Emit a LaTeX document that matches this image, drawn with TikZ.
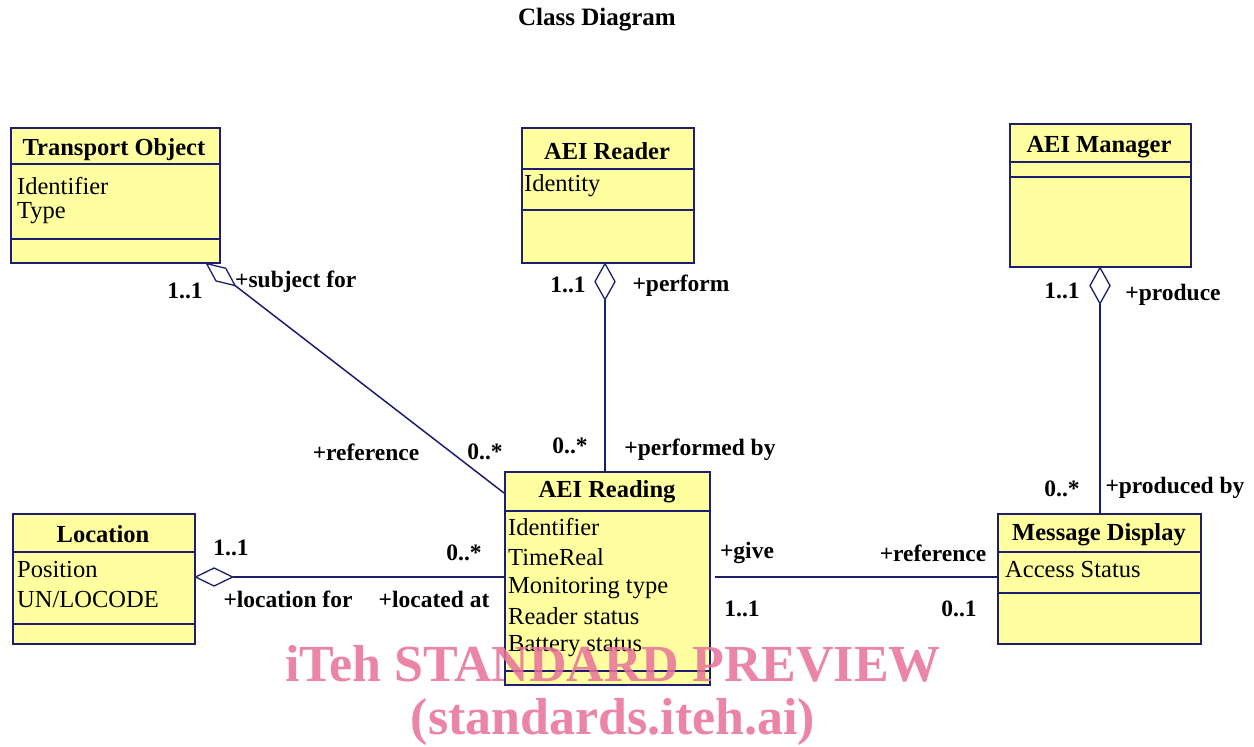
\documentclass[tikz,border=0pt]{standalone}
\usepackage{fontspec}
\setmainfont{Liberation Serif}
\usetikzlibrary{calc}
\definecolor{boxfill}{RGB}{255,255,160}
\definecolor{navy}{RGB}{30,30,110}
\definecolor{stamp}{RGB}{232,112,152}
\tikzset{
  classbox/.style={draw=navy, fill=boxfill, line width=1.6pt, anchor=north west, inner sep=0pt},
  divider/.style={draw=navy, line width=1.6pt},
  assoc/.style={draw=navy, line width=1.5pt},
  agg/.style={draw=navy, fill=white, line width=1.3pt},
  cname/.style={font=\fontsize{24.5}{28}\selectfont\bfseries, inner sep=0pt},
  attr/.style={font=\fontsize{24.5}{28}\selectfont, anchor=west, inner sep=0pt},
  lbl/.style={font=\fontsize{23.5}{26}\selectfont\bfseries, inner sep=0pt},
  ttl/.style={font=\fontsize{25}{28}\selectfont\bfseries, inner sep=0pt},
  stamptext/.style={font=\fontsize{52}{56}\selectfont\bfseries, text=stamp, opacity=0.85, inner sep=0pt}
}
\begin{document}
\begin{tikzpicture}[x=1pt,y=-1pt]
\useasboundingbox (0,0) rectangle (1254,747);

% title
\node[ttl] (title) at (597,20) {Class Diagram};

% ---- classes ----
% Transport Object
\node[classbox, minimum width=209pt, minimum height=135pt] (to) at (10,127) {};
\draw[divider] (10,164) -- (219,164);
\draw[divider] (10,239) -- (219,239);
\node[cname] (toN) at (114,150) {Transport Object};
\node[attr] (toA1) at (17,186) {Identifier};
\node[attr] (toA2) at (17,213) {Type};

% AEI Reader
\node[classbox, minimum width=172pt, minimum height=135pt] (rd) at (521,127) {};
\draw[divider] (521,169) -- (693,169);
\draw[divider] (521,210) -- (693,210);
\node[cname] (rdN) at (607,151) {AEI Reader};
\node[attr] (rdA1) at (524,186) {Identity};

% AEI Manager
\node[classbox, minimum width=181pt, minimum height=143pt] (mg) at (1009,123) {};
\draw[divider] (1009,162) -- (1190,162);
\draw[divider] (1009,177) -- (1190,177);
\node[cname] (mgN) at (1099,147) {AEI Manager};

% Location
\node[classbox, minimum width=182pt, minimum height=130pt] (lc) at (12,513) {};
\draw[divider] (12,552) -- (194,552);
\draw[divider] (12,624) -- (194,624);
\node[cname] (lcN) at (103,534) {Location};
\node[attr] (lcA1) at (17,570) {Position};
\node[attr] (lcA2) at (17,600) {UN/LOCODE};

% AEI Reading
\node[classbox, minimum width=205pt, minimum height=213pt] (ar) at (504,471) {};
\draw[divider] (504,511) -- (709,511);
\draw[divider] (504,671) -- (709,671);
\node[cname] (arN) at (607,492) {AEI Reading};
\node[attr] (arA1) at (508,527) {Identifier};
\node[attr] (arA2) at (508,557) {TimeReal};
\node[attr] (arA3) at (508,588) {Monitoring type};
\node[attr] (arA4) at (508,616) {Reader status};
\node[attr] (arA5) at (508,646) {Battery status};

% Message Display
\node[classbox, minimum width=203pt, minimum height=130pt] (md) at (997,513) {};
\draw[divider] (997,552) -- (1200,552);
\draw[divider] (997,593) -- (1200,593);
\node[cname] (mdN) at (1099,535) {Message Display};
\node[attr] (mdA1) at (1005,570) {Access Status};

% ---- associations ----
% Transport Object -- AEI Reading
\coordinate (toD) at ($(to.south east)+(-14,0)$);
\coordinate (arT) at ($(ar.north west)+(0,22)$);
\coordinate (toDtip) at ($(toD)!36pt!(arT)$);
\coordinate (toDmid) at ($(toD)!18pt!(arT)$);
\draw[assoc] (toDtip) -- (arT);
\draw[agg] (toD) -- ($(toDmid)!8pt!90:(arT)$) -- (toDtip) -- ($(toDmid)!8pt!-90:(arT)$) -- cycle;

% AEI Reader -- AEI Reading
\coordinate (rdD) at (rd.south -| 605,0);
\draw[assoc] ($(rdD)+(0,36)$) -- (ar.north -| rdD);
\draw[agg] (rdD) -- ++(10,18) -- ++(-10,18) -- ++(-10,-18) -- cycle;

% AEI Manager -- Message Display
\coordinate (mgD) at (mg.south -| 1100,0);
\draw[assoc] ($(mgD)+(0,36)$) -- (md.north -| mgD);
\draw[agg] (mgD) -- ++(10,18) -- ++(-10,18) -- ++(-10,-18) -- cycle;

% Location -- AEI Reading
\coordinate (lcD) at (lc.east |- 0,577);
\draw[assoc] ($(lcD)+(37,0)$) -- (ar.west |- lcD);
\draw[agg] (lcD) -- ++(18.5,-9) -- ++(18.5,9) -- ++(-18.5,9) -- cycle;

% AEI Reading -- Message Display
\draw[assoc] ($(ar.east |- 0,577)+(4,0)$) -- (md.west |- 0,577);

% ---- role names and multiplicities ----
\node[lbl] (m1) at (185,291) {1..1};
\node[lbl, anchor=west] (r1) at (235,282) {+subject for};
\node[lbl] (r2) at (366,452) {+reference};
\node[lbl] (m2) at (485,452) {0..*};

\node[lbl] (m3) at (568,285) {1..1};
\node[lbl] (r3) at (681,286) {+perform};
\node[lbl] (m4) at (570,446) {0..*};
\node[lbl] (r4) at (700,450) {+performed by};

\node[lbl] (m5) at (1062,291) {1..1};
\node[lbl] (r5) at (1173,295) {+produce};
\node[lbl] (m6) at (1062,489) {0..*};
\node[lbl] (r6) at (1175,488) {+produced by};

\node[lbl] (m7) at (231,548) {1..1};
\node[lbl] (m8) at (464,553) {0..*};
\node[lbl] (r7) at (288,599) {+location for};
\node[lbl] (r8) at (434,599) {+located at};

\node[lbl] (r9) at (747,553) {+give};
\node[lbl] (r10) at (933,553) {+reference};
\node[lbl] (m9) at (742,609) {1..1};
\node[lbl] (m10) at (959,609) {0..1};

% ---- watermark ----
\node[stamptext] (wm1) at (613,664) {iTeh STANDARD PREVIEW};
\node[stamptext] (wm2) at (613,722) {(standards.iteh.ai)};
\end{tikzpicture}
\end{document}
